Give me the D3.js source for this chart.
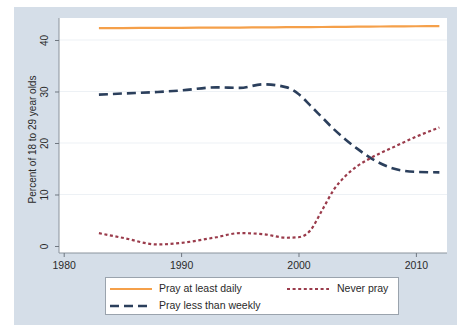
<!DOCTYPE html>
<html>
<head>
<meta charset="utf-8">
<script src="https://cdn.jsdelivr.net/npm/d3@7"></script>
<style>
  html, body { margin: 0; padding: 0; background: #ffffff; }
  svg { display: block; font-family: "Liberation Sans", Arial, sans-serif; }
</style>
</head>
<body>
<svg id="chart" width="461" height="325"></svg>
<script>
// Survey years and smoothed shares of 18-29 year olds by prayer frequency
const years = [1983, 1985, 1988, 1990, 1993, 1995, 1997, 1999, 2000, 2001, 2002, 2003, 2004, 2005, 2006, 2008, 2010, 2012];
const prayDaily = [42.3, 42.32, 42.35, 42.37, 42.4, 42.42, 42.45, 42.48, 42.5, 42.5, 42.52, 42.54, 42.56, 42.58, 42.6, 42.63, 42.67, 42.7];
const prayLessWeekly = [29.4, 29.6, 29.9, 30.2, 30.8, 30.7, 31.4, 30.8, 29.5, 27.3, 25.0, 22.7, 20.7, 18.9, 17.3, 15.1, 14.4, 14.3];
const neverPray = [2.5, 1.6, 0.3, 0.6, 1.7, 2.5, 2.3, 1.6, 1.7, 3.0, 6.9, 10.9, 13.6, 15.5, 16.9, 19.1, 21.2, 23.0];

const xTicks = [1980, 1990, 2000, 2010];
const yTicks = [0, 10, 20, 30, 40];
const yTitle = "Percent of 18 to 29 year olds";

const series = [
  { label: "Pray at least daily", values: prayDaily, color: "#f5a04a", width: 2.2, dash: null },
  { label: "Pray less than weekly", values: prayLessWeekly, color: "#2b3f5c", width: 2.6, dash: "9,5" },
  { label: "Never pray", values: neverPray, color: "#9a3b4b", width: 2.2, dash: "3,2.6" }
];

const svg = d3.select("#chart");

// graph region (bluish-gray) and plot region (white)
svg.append("rect").attr("x", 14).attr("y", 7).attr("width", 443).attr("height", 318).attr("fill", "#d5dee8");

const plot = { left: 59, top: 18, right: 447, bottom: 253 };
svg.append("rect")
  .attr("x", plot.left).attr("y", plot.top)
  .attr("width", plot.right - plot.left).attr("height", plot.bottom - plot.top)
  .attr("fill", "#ffffff");

const x = d3.scaleLinear().domain([1979.6, 2012.65]).range([plot.left, plot.right]);
const y = d3.scaleLinear().domain([-1.36, 44.27]).range([plot.bottom, plot.top]);

// horizontal gridlines
svg.append("g").selectAll("line").data(yTicks.filter(d => d > 0)).join("line")
  .attr("x1", plot.left).attr("x2", plot.right)
  .attr("y1", d => y(d)).attr("y2", d => y(d))
  .attr("stroke", "#edf1f5").attr("stroke-width", 1);

// y axis
const yAxis = svg.append("g").attr("transform", `translate(${plot.left},0)`)
  .call(d3.axisLeft(y).tickValues(yTicks).tickSize(4).tickPadding(3).tickFormat(d3.format("d")));
yAxis.select(".domain").attr("d", `M0,${plot.top}V${plot.bottom}`).attr("stroke", "#8a939c");
yAxis.selectAll(".tick line").attr("stroke", "#6f7780");
yAxis.selectAll(".tick text")
  .attr("font-size", 10).attr("fill", "#2a2a2a")
  .attr("x", null).attr("dy", null)
  .attr("text-anchor", "middle")
  .attr("transform", "translate(-14,0) rotate(-90)")
  .attr("dominant-baseline", "middle");

// x axis
const xAxis = svg.append("g").attr("transform", `translate(0,${plot.bottom})`)
  .call(d3.axisBottom(x).tickValues(xTicks).tickSize(4).tickPadding(5).tickFormat(d3.format("d")));
xAxis.select(".domain").attr("d", `M${plot.left},0H${plot.right}`).attr("stroke", "#8a939c");
xAxis.selectAll(".tick line").attr("stroke", "#6f7780");
xAxis.selectAll(".tick text").attr("font-size", 10.5).attr("fill", "#2a2a2a");

// y axis title
svg.append("text")
  .attr("transform", `translate(33,${(plot.top + plot.bottom) / 2 + 4}) rotate(-90)`)
  .attr("text-anchor", "middle").attr("dominant-baseline", "middle")
  .attr("font-size", 10).attr("fill", "#2a2a2a")
  .text(yTitle);

// series lines
const line = d3.line().x(d => x(d[0])).y(d => y(d[1])).curve(d3.curveMonotoneX);
series.forEach(s => {
  svg.append("path")
    .datum(years.map((yr, i) => [yr, s.values[i]]))
    .attr("d", line)
    .attr("fill", "none")
    .attr("stroke", s.color)
    .attr("stroke-width", s.width)
    .attr("stroke-dasharray", s.dash)
    .attr("stroke-linecap", "butt");
});

// legend
const lg = svg.append("g");
lg.append("rect").attr("x", 105.5).attr("y", 277.5).attr("width", 293).attr("height", 37)
  .attr("fill", "#ffffff").attr("stroke", "#9aa3ad").attr("stroke-width", 1);
const legendPos = [
  { s: series[0], kx: 110, tx: 159, ty: 289 },
  { s: series[1], kx: 110, tx: 159, ty: 306 },
  { s: series[2], kx: 287, tx: 337, ty: 289 }
];
legendPos.forEach(p => {
  lg.append("line")
    .attr("x1", p.kx).attr("x2", p.kx + 42)
    .attr("y1", p.ty).attr("y2", p.ty)
    .attr("stroke", p.s.color).attr("stroke-width", p.s.width)
    .attr("stroke-dasharray", p.s.dash);
  lg.append("text")
    .attr("x", p.tx).attr("y", p.ty)
    .attr("dominant-baseline", "middle")
    .attr("font-size", 10.5).attr("fill", "#2a2a2a")
    .text(p.s.label);
});
</script>
</body>
</html>
